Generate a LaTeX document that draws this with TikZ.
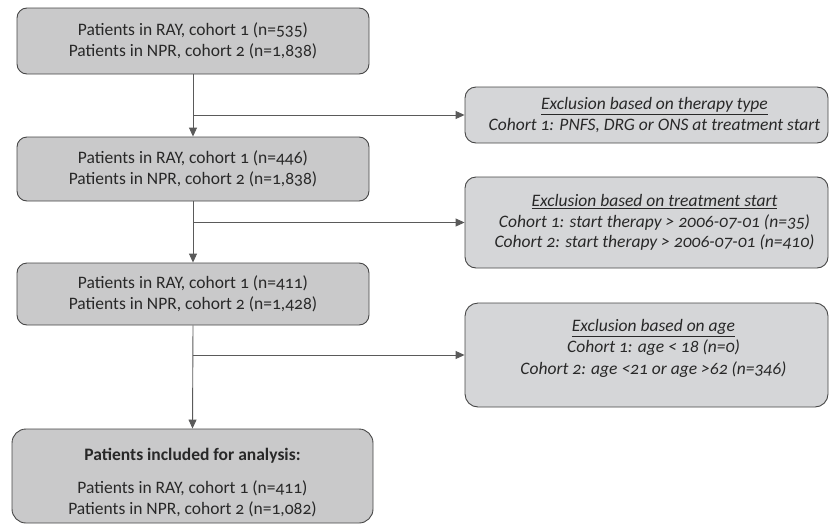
\documentclass[tikz,border=0pt]{standalone}
\usepackage{fontspec}
\setmainfont{Carlito}[Numbers=OldStyle]
\usetikzlibrary{arrows.meta}
\definecolor{leftfill}{RGB}{201,201,202}
\definecolor{rightfill}{RGB}{213,214,216}
\definecolor{edgegray}{RGB}{70,70,70}
\definecolor{linegray}{RGB}{90,90,90}
\definecolor{txt}{RGB}{40,40,40}
\begin{document}
\begin{tikzpicture}[x=1pt,y=-1pt,
  mainbox/.style={draw=edgegray,line width=0.9pt,fill=leftfill,rounded corners=10pt,
    minimum width=352pt,align=center,text=txt,font=\fontsize{17.5}{21}\selectfont,inner sep=0pt},
  exclbox/.style={draw=edgegray,line width=0.9pt,fill=rightfill,rounded corners=11pt,
    minimum width=363pt,align=center,text=txt,font=\fontsize{17.5}{20.5}\selectfont\itshape,inner sep=0pt},
  conn/.style={draw=linegray,line width=0.9pt},
  arr/.style={conn,-{Triangle[length=9pt,width=8pt]}}]
\useasboundingbox (0,0) rectangle (829,525);
\node[mainbox,minimum height=66pt] (b1) at (193,41)
  {Patients in RAY, cohort 1 (n=535)\\Patients in NPR, cohort 2 (n=1,838)};
\node[mainbox,minimum height=64pt] (b2) at (193,169)
  {Patients in RAY, cohort 1 (n=446)\\Patients in NPR, cohort 2 (n=1,838)};
\node[mainbox,minimum height=62pt] (b3) at (193,294)
  {Patients in RAY, cohort 1 (n=411)\\Patients in NPR, cohort 2 (n=1,428)};
\node[mainbox,minimum width=361pt,minimum height=94pt,rounded corners=14pt] (b4) at (192.5,476)
  {\rule{0pt}{25pt}\textbf{Patients included for analysis:}\\[12pt]Patients in RAY, cohort 1 (n=411)\\Patients in NPR, cohort 2 (n=1,082)};
\node[exclbox,minimum height=56pt] (r1) at (646.5,115)
  {\hspace*{16pt}\underline{Exclusion based on therapy type}\\\hspace*{16pt}Cohort 1: PNFS, DRG or ONS at treatment start};
\node[exclbox,minimum height=91pt] (r2) at (646.5,222.5)
  {\hspace*{16pt}\underline{Exclusion based on treatment start}\\\hspace*{16pt}Cohort 1: start therapy > 2006-07-01 (n=35)\\\hspace*{16pt}Cohort 2: start therapy > 2006-07-01 (n=410)};
\node[exclbox,minimum height=104pt,rounded corners=13pt,font=\fontsize{17.5}{21.5}\selectfont\itshape] (r3) at (646.5,355)
  {\hspace*{14pt}\underline{Exclusion based on age}\\\hspace*{14pt}Cohort 1: age < 18 (n=0)\\\hspace*{14pt}Cohort 2: age <21 or age >62 (n=346)\\[-5pt]};
\draw[arr] (b1.south) -- (b2.north);
\draw[arr] (b2.south) -- (b3.north);
\draw[arr] (b3.south) -- (b4.north);
\draw[arr] (b1.south |- r1.west) -- (r1.west);
\draw[arr] (b2.south |- r2.west) -- (r2.west);
\draw[arr] (b3.south |- r3.west) -- (r3.west);
\end{tikzpicture}
\end{document}
